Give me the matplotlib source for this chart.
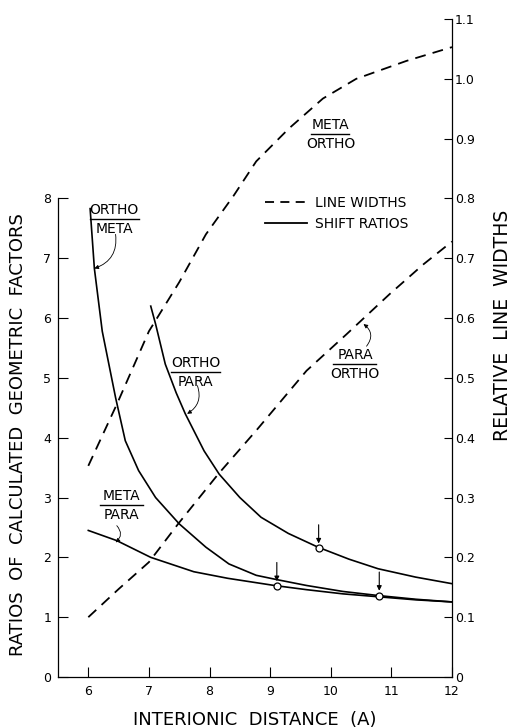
import matplotlib.pyplot as plt
from matplotlib.lines import Line2D

# shift ratios, left axis
om_x = [6.03, 6.10, 6.23, 6.45, 6.61, 6.83, 7.11, 7.50, 7.94, 8.32, 8.77, 9.10, 9.60, 10.20, 10.80, 11.40, 12.00]
om_y = [7.83, 6.83, 5.78, 4.67, 3.95, 3.45, 3.00, 2.56, 2.17, 1.89, 1.70, 1.63, 1.53, 1.43, 1.36, 1.30, 1.255]

op_x = [7.03, 7.11, 7.27, 7.45, 7.60, 7.91, 8.16, 8.50, 8.85, 9.30, 9.79, 10.30, 10.78, 11.40, 12.00]
op_y = [6.20, 5.90, 5.23, 4.75, 4.40, 3.78, 3.39, 3.00, 2.67, 2.40, 2.17, 1.97, 1.81, 1.67, 1.56]

mp_x = [6.00, 6.47, 7.03, 7.74, 8.30, 9.07, 9.60, 10.20, 10.80, 11.40, 12.00]
mp_y = [2.45, 2.28, 2.00, 1.76, 1.65, 1.53, 1.46, 1.39, 1.34, 1.29, 1.255]

# line widths, right axis
mo_x = [6.00, 6.48, 7.00, 7.50, 7.94, 8.40, 8.77, 9.31, 9.87, 10.42, 11.25, 12.00]
mo_y = [0.353, 0.458, 0.578, 0.660, 0.740, 0.805, 0.862, 0.917, 0.967, 1.000, 1.030, 1.053]

po_x = [6.00, 6.50, 7.00, 7.49, 8.15, 8.77, 9.60, 10.26, 10.97, 11.53, 12.00]
po_y = [0.100, 0.147, 0.192, 0.257, 0.340, 0.412, 0.512, 0.573, 0.640, 0.690, 0.728]

# marked points (circles with arrows)
pt_x = [9.11, 9.80, 10.80]
pt_y = [1.52, 2.15, 1.36]

x_ticks = [6, 7, 8, 9, 10, 11, 12]
left_ticks = [0, 1, 2, 3, 4, 5, 6, 7, 8]
right_ticks = [0, 0.1, 0.2, 0.3, 0.4, 0.5, 0.6, 0.7, 0.8, 0.9, 1.0, 1.1]
right_labels = ["0", "0.1", "0.2", "0.3", "0.4", "0.5", "0.6", "0.7", "0.8", "0.9", "1.0", "1.1"]

fig = plt.figure(figsize=(5.11, 7.28), dpi=100)
ax = fig.add_axes([58 / 511, 51 / 728, 394 / 511, 658 / 728])
ax2 = ax.twinx()

lw = 1.2
dash = (6, 4)
ax.plot(om_x, om_y, color="black", lw=lw)
ax.plot(op_x, op_y, color="black", lw=lw)
ax.plot(mp_x, mp_y, color="black", lw=lw)
ax2.plot(mo_x, mo_y, color="black", lw=1.3, dashes=dash)
ax2.plot(po_x, po_y, color="black", lw=1.3, dashes=dash)

ax.plot(pt_x, pt_y, "o", ms=5, mfc="white", mec="black", mew=0.9, zorder=5)
for x, y in zip(pt_x, pt_y):
    ax.annotate("", xy=(x, y), xytext=(0, 17), textcoords="offset points",
                arrowprops=dict(arrowstyle="-|>", color="black", lw=0.8,
                                mutation_scale=7, shrinkA=0, shrinkB=3.5))

ax.set_xlim(5.5, 12)
ax.set_ylim(0, 11)
ax2.set_ylim(0, 1.1)

ax.set_xticks(x_ticks)
ax.set_yticks(left_ticks)
ax2.set_yticks(right_ticks)
ax2.set_yticklabels(right_labels)

for s in ["top", "right"]:
    ax.spines[s].set_visible(False)
for s in ["top", "left", "bottom"]:
    ax2.spines[s].set_visible(False)
ax.spines["left"].set_bounds(0, 8)
for sp in [ax.spines["left"], ax.spines["bottom"], ax2.spines["right"]]:
    sp.set_linewidth(0.9)

ax.tick_params(axis="both", direction="in", length=7, width=0.8, labelsize=9)
ax.tick_params(axis="x", pad=6)
ax.tick_params(axis="y", pad=5)
ax2.tick_params(axis="y", direction="in", length=6, width=0.8, labelsize=9, pad=2)

ax.set_xlabel("INTERIONIC  DISTANCE  (A)", fontsize=13)
ax.xaxis.set_label_coords(0.5, -0.052)
ax.set_ylabel("RATIOS  OF  CALCULATED  GEOMETRIC  FACTORS", fontsize=13)
ax.yaxis.set_label_coords(-0.079, 0.368)
ax2.set_ylabel("RELATIVE  LINE  WIDTHS", fontsize=13.5)
ax2.yaxis.set_label_coords(1.104, 0.535)


def frac(a, x, y, top, bottom, x0, x1):
    a.plot([x0, x1], [y, y], color="black", lw=1.0)
    a.annotate(top, xy=(x, y), xytext=(0, 1.5), textcoords="offset points",
               ha="center", va="bottom", fontsize=10)
    a.annotate(bottom, xy=(x, y), xytext=(0, -2), textcoords="offset points",
               ha="center", va="top", fontsize=10)


frac(ax, 6.43, 7.65, "ORTHO", "META", 6.03, 6.83)
frac(ax, 7.77, 5.10, "ORTHO", "PARA", 7.36, 8.18)
frac(ax, 6.55, 2.87, "META", "PARA", 6.20, 6.91)
frac(ax, 10.0, 9.08, "META", "ORTHO", 9.68, 10.30)
frac(ax, 10.4, 5.23, "PARA", "ORTHO", 10.04, 10.75)

arr = dict(arrowstyle="-|>", color="black", lw=0.6, mutation_scale=6, shrinkA=0, shrinkB=0)
ax.annotate("", xy=(6.10, 6.83), xytext=(6.45, 7.40),
            arrowprops=dict(arr, connectionstyle="arc3,rad=-0.4"))
ax.annotate("", xy=(7.63, 4.40), xytext=(7.80, 4.87),
            arrowprops=dict(arr, connectionstyle="arc3,rad=-0.4"))
ax.annotate("", xy=(6.45, 2.25), xytext=(6.47, 2.53),
            arrowprops=dict(arr, connectionstyle="arc3,rad=-0.5"))
ax2.annotate("", xy=(10.54, 0.59), xytext=(10.59, 0.553),
             arrowprops=dict(arr, connectionstyle="arc3,rad=0.5"))

handles = [Line2D([], [], color="black", lw=1.3, dashes=(5, 3.5)),
           Line2D([], [], color="black", lw=1.3)]
ax.legend(handles, ["LINE WIDTHS", "SHIFT RATIOS"], loc="upper left",
          bbox_to_anchor=((265 - 58) / 394, (677 - 196) / 658), frameon=False,
          borderpad=0, borderaxespad=0, handlelength=3.0, handletextpad=0.6,
          labelspacing=0.5, fontsize=10)

fig.savefig("out.png", dpi=100)
